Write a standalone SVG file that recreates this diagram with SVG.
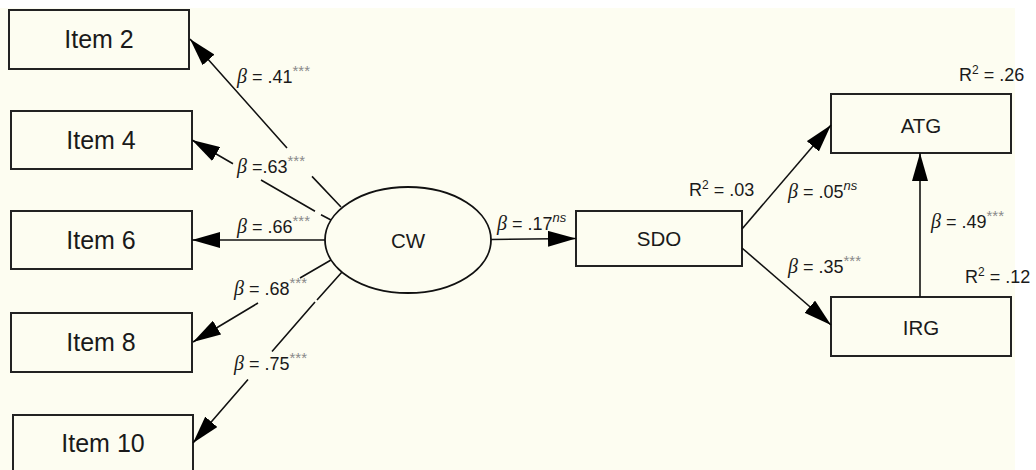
<svg xmlns="http://www.w3.org/2000/svg" width="1036" height="470" viewBox="0 0 1036 470">
<style>
.box{fill:none;stroke:#222;stroke-width:2}
.lbl{font-family:"Liberation Sans",Arial,sans-serif;fill:#1a1a1a}
.nt{font-size:25px;text-anchor:middle;dominant-baseline:central}
.nt2{font-size:20.5px;text-anchor:middle;dominant-baseline:central}
.el{font-size:18px}
.b{font-family:"Liberation Serif",serif;font-style:italic;font-size:20px}
.s{font-size:15px;fill:#8a8a8a}
.ns{font-size:13px;font-style:italic}
.con path{fill:none;stroke:#111;stroke-width:1.6;marker-end:url(#ah)}
</style>
<defs>
<marker id="ah" markerUnits="userSpaceOnUse" markerWidth="28" markerHeight="16" refX="28" refY="8" orient="auto"><path d="M0,0 L28,8 L0,16 z" fill="#000"/></marker>
</defs>
<rect x="0" y="8" width="1015" height="462" fill="#fdfdf1"/>
<g id="item2"><rect class="box" x="9" y="10" width="180" height="59"/><text class="lbl nt" x="99" y="39">Item 2</text></g>
<g id="item4"><rect class="box" x="11" y="111" width="181" height="58"/><text class="lbl nt" x="101" y="140">Item 4</text></g>
<g id="item6"><rect class="box" x="11" y="211" width="181" height="58"/><text class="lbl nt" x="101" y="240">Item 6</text></g>
<g id="item8"><rect class="box" x="11" y="313" width="181" height="59"/><text class="lbl nt" x="101" y="342">Item 8</text></g>
<g id="item10"><rect class="box" x="13" y="415" width="180" height="59"/><text class="lbl nt" x="103" y="443">Item 10</text></g>
<g id="cw"><ellipse cx="408" cy="240" rx="83" ry="53" fill="none" stroke="#111" stroke-width="1.8"/><text class="lbl nt2" x="408" y="240">CW</text></g>
<g id="sdo"><rect class="box" x="576" y="211" width="166" height="55"/><text class="lbl nt2" x="659" y="238">SDO</text><text class="lbl el" x="689" y="196">R<tspan font-size="12" dy="-7">2</tspan><tspan dy="7"> = .03</tspan></text></g>
<g id="atg"><rect class="box" x="831" y="94" width="180" height="59"/><text class="lbl nt2" x="921" y="125">ATG</text><text class="lbl el" x="959" y="81">R<tspan font-size="12" dy="-7">2</tspan><tspan dy="7"> = .26</tspan></text></g>
<g id="irg"><rect class="box" x="831" y="297" width="180" height="59"/><text class="lbl nt2" x="921" y="327">IRG</text><text class="lbl el" x="965" y="283">R<tspan font-size="12" dy="-7">2</tspan><tspan dy="7"> = .12</tspan></text></g>
<g id="connectors" class="con">
<path d="M341,207 L312,176.4 M287,148 L190,39"/>
<path d="M331,220 L321,214.8 M315,211.3 L261,180 M233,163.8 L192,140"/>
<path d="M325,240 L192,240"/>
<path d="M331,260 L300,278 M258,303 L193,342"/>
<path d="M342,272 L317,300 M315,302 L272,351.6 M248,379.4 L193,443"/>
<path d="M491,239.5 L576,238.5"/>
<path d="M742,229 L831,125"/>
<path d="M742,248 L831,325"/>
<path d="M920,297 L920,153"/>
</g>
<g id="labels" class="lbl el">
<text x="237" y="83"><tspan class="b">β</tspan> = .41<tspan class="s" dy="-7">***</tspan></text>
<text x="237" y="173"><tspan class="b">β</tspan> =.63<tspan class="s" dy="-7">***</tspan></text>
<text x="237" y="233"><tspan class="b">β</tspan> = .66<tspan class="s" dy="-7">***</tspan></text>
<text x="234" y="295"><tspan class="b">β</tspan> = .68<tspan class="s" dy="-7">***</tspan></text>
<text x="234" y="370"><tspan class="b">β</tspan> = .75<tspan class="s" dy="-7">***</tspan></text>
<text x="497" y="230"><tspan class="b">β</tspan> = .17<tspan class="ns" dy="-8">ns</tspan></text>
<text x="788" y="198"><tspan class="b">β</tspan> = .05<tspan class="ns" dy="-8">ns</tspan></text>
<text x="788" y="273"><tspan class="b">β</tspan> = .35<tspan class="s" dy="-7">***</tspan></text>
<text x="931" y="228"><tspan class="b">β</tspan> = .49<tspan class="s" dy="-7">***</tspan></text>
</g>
</svg>
